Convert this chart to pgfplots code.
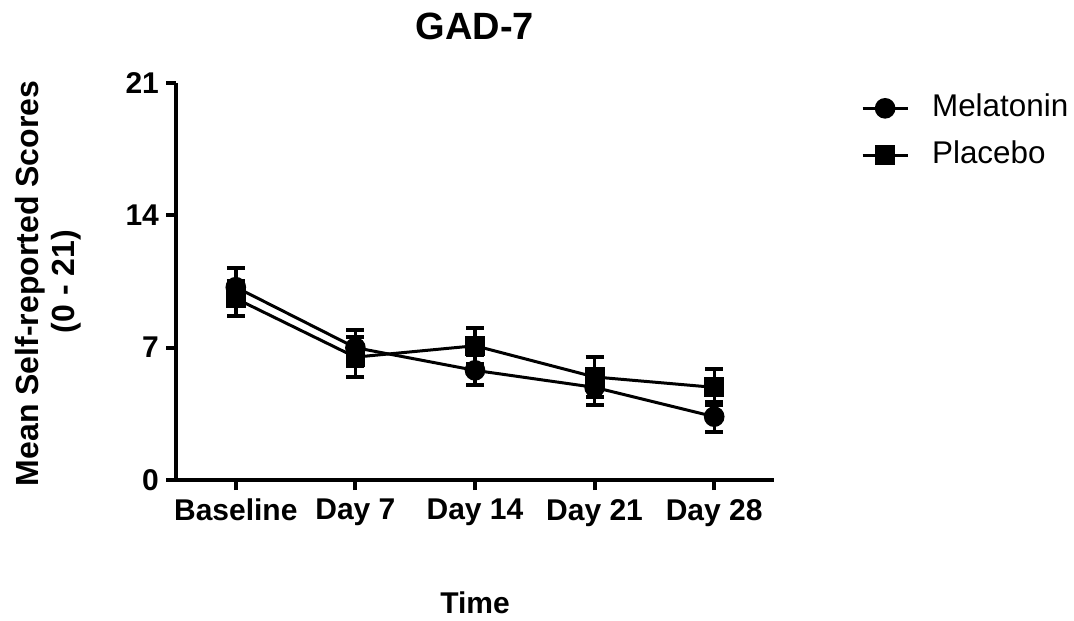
\documentclass[border=0pt]{standalone}
\usepackage{fontspec}
\setmainfont{Liberation Sans}
\usepackage{pgfplots}
\pgfplotsset{compat=1.18}
\usepackage{pgfplotstable}

\pgfplotstableread{
x y e
0 10.2 1.0
1 7.0 0.95
2 5.8 0.8
3 4.9 0.95
4 3.35 0.8
}\mel
\pgfplotstableread{
x y e
0 9.6 0.9
1 6.5 1.05
2 7.1 0.95
3 5.45 1.05
4 4.9 0.95
}\pla

\begin{document}
\begin{tikzpicture}
\useasboundingbox (0,0) rectangle (537pt,310pt);
\begin{axis}[
  at={(88pt,70pt)}, anchor=south west,
  scale only axis, width=299pt, height=198.5pt,
  xmin=-0.5, xmax=4.5, ymin=0, ymax=21,
  axis lines=left, axis line style={line width=2pt, -},
  xtick={0,1,2,3,4}, xticklabels={Baseline, Day 7, Day 14, Day 21, Day 28},
  ytick={0,7,14,21},
  tick align=outside, major tick length=5pt,
  tick style={line width=2pt, black},
  ticklabel style={font=\fontsize{15}{18}\selectfont\bfseries},
  xticklabel style={yshift=-1pt},
  /pgf/number format/assume math mode=true,
  clip=false,
  legend cell align=left,
  legend style={draw=none, fill=none, inner sep=0pt, at={(1.145,0.975)}, anchor=north west,
    font=\fontsize{15.7}{18}\selectfont, row sep=8.5pt,
    nodes={inner sep=0pt, text height=11.5pt, text depth=3.5pt},
    /tikz/every odd column/.append style={column sep=11.5pt}},
  legend image code/.code={\draw[mark repeat=2,mark phase=2,#1] plot coordinates {(0pt,0pt)(11.25pt,0pt)(22.5pt,0pt)};},
  error bars/error bar style={line width=1.7pt, black},
  error bars/error mark options={rotate=90, mark size=4.5pt, line width=2pt, black},
]
\addplot[black, line width=1.5pt, mark=*, mark size=4.4pt, mark options={solid, fill=black},
  error bars/.cd, y dir=both, y explicit]
  table[x=x, y=y, y error=e] {\mel};
\addlegendentry{Melatonin}
\addplot[black, line width=1.5pt, mark=square*, mark size=4.2pt, mark options={solid, fill=black},
  error bars/.cd, y dir=both, y explicit]
  table[x=x, y=y, y error=e] {\pla};
\addlegendentry{Placebo}
\node[font=\fontsize{19}{22}\selectfont\bfseries] at (axis description cs:0.5,1.1436) {GAD-7};
\node[font=\fontsize{16}{19}\selectfont\bfseries, rotate=90] at (axis description cs:-0.244,0.495) {Mean Self-reported Scores};
\node[font=\fontsize{16}{19}\selectfont\bfseries, rotate=90] at (axis description cs:-0.184,0.5) {(0 - 21)};
\node[font=\fontsize{15}{18}\selectfont\bfseries] at (axis description cs:0.5,-0.31) {Time};
\end{axis}
\end{tikzpicture}
\end{document}
